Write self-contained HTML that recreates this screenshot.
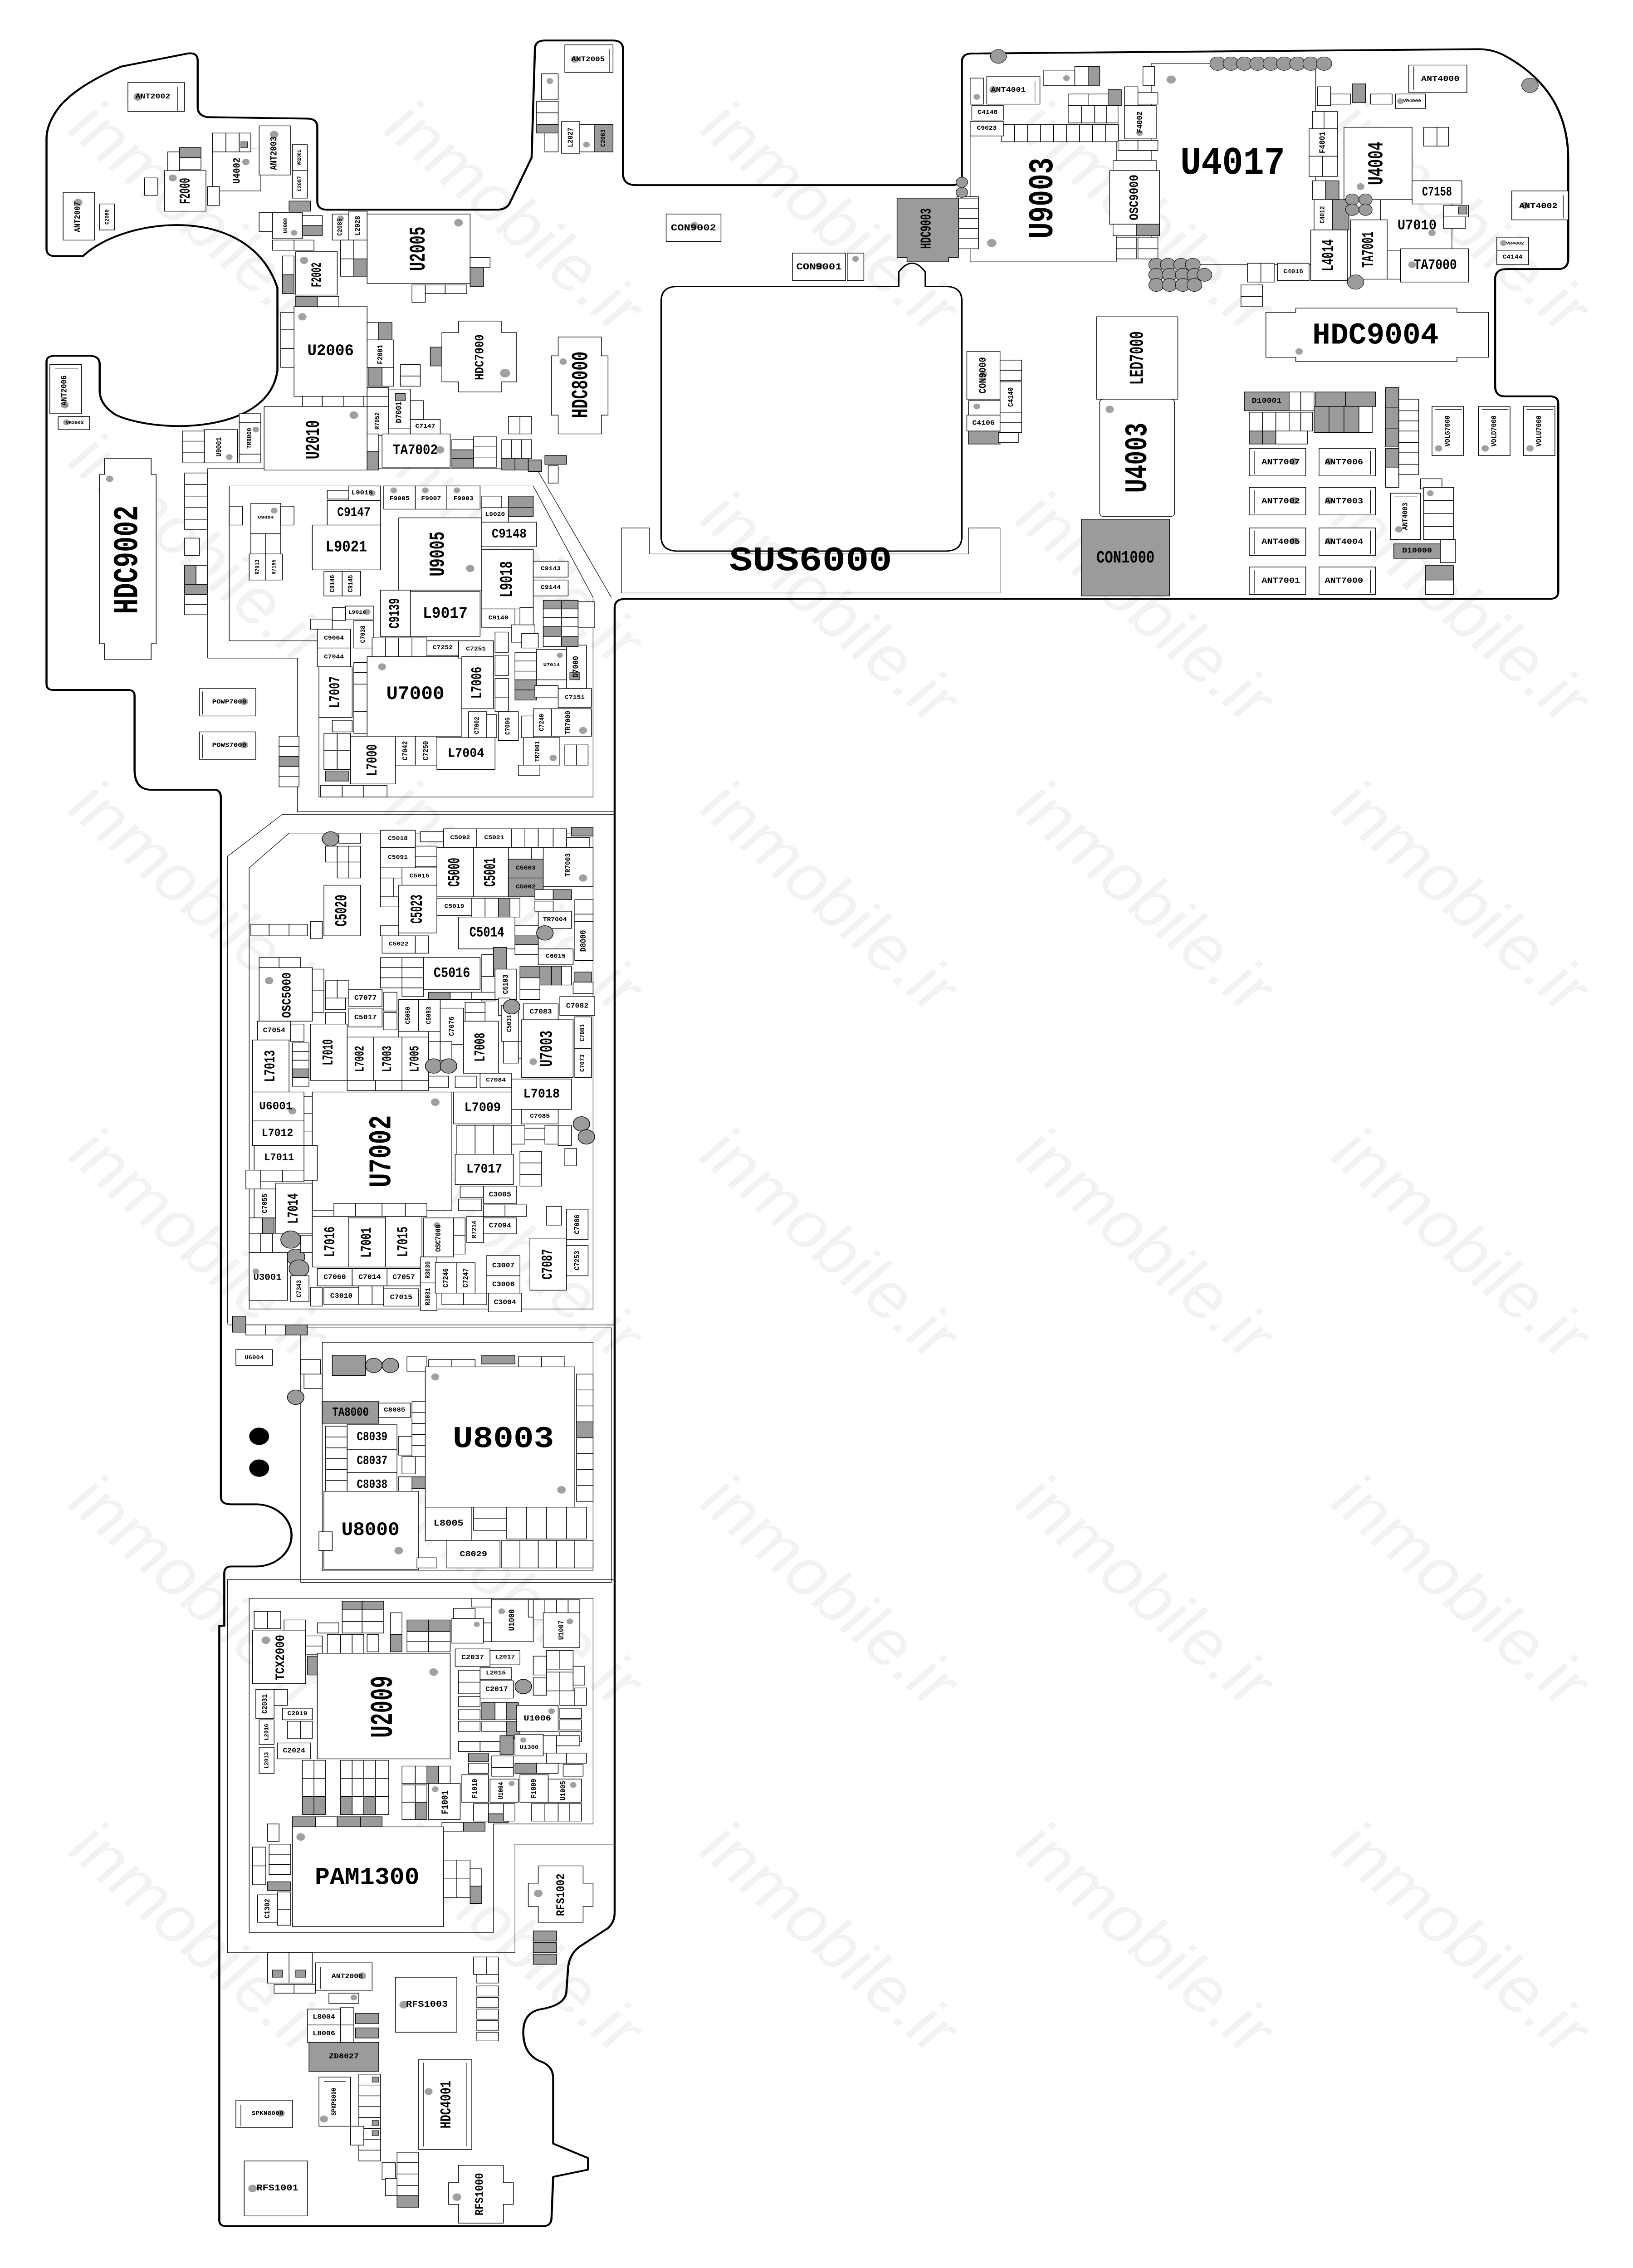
<!DOCTYPE html>
<html><head><meta charset="utf-8">
<meta name="viewport" content="width=device-width, initial-scale=1">
<style>
html,body{margin:0;padding:0;background:#fff;width:100%;height:100%;overflow:hidden}
svg{display:block;position:fixed;left:0;top:0;width:100vw;height:100vh}
.o{fill:none;stroke:#000;stroke-width:1.25;stroke-linejoin:round}
.f{fill:none;stroke:#000;stroke-width:0.35}
.c{fill:#fff;stroke:#000;stroke-width:0.4}
.g{fill:#9b9b9b;stroke:#000;stroke-width:0.4}
.k{fill:#9b9b9b;stroke:#000;stroke-width:0.3}
.d{fill:#a0a0a0}
text{font-family:"Liberation Mono","DejaVu Sans Mono",monospace;font-weight:bold;text-anchor:middle;dominant-baseline:central;fill:#000}
.w{fill:#f2f2f2;font-family:"Liberation Sans",sans-serif;font-weight:normal;font-size:44px}
</style></head><body>
<svg viewBox="0 0 983 1568" preserveAspectRatio="none" xmlns="http://www.w3.org/2000/svg">
<rect width="983" height="1568" fill="#fff"/>
<!-- watermark -->
<g>
<text class="w" transform="translate(120,150) rotate(45)">inmobile.ir</text>
<text class="w" transform="translate(310,150) rotate(45)">inmobile.ir</text>
<text class="w" transform="translate(500,150) rotate(45)">inmobile.ir</text>
<text class="w" transform="translate(690,150) rotate(45)">inmobile.ir</text>
<text class="w" transform="translate(880,150) rotate(45)">inmobile.ir</text>
<text class="w" transform="translate(120,380) rotate(45)">inmobile.ir</text>
<text class="w" transform="translate(310,380) rotate(45)">inmobile.ir</text>
<text class="w" transform="translate(500,420) rotate(45)">inmobile.ir</text>
<text class="w" transform="translate(690,420) rotate(45)">inmobile.ir</text>
<text class="w" transform="translate(880,420) rotate(45)">inmobile.ir</text>
<text class="w" transform="translate(120,620) rotate(45)">inmobile.ir</text>
<text class="w" transform="translate(310,620) rotate(45)">inmobile.ir</text>
<text class="w" transform="translate(500,620) rotate(45)">inmobile.ir</text>
<text class="w" transform="translate(690,620) rotate(45)">inmobile.ir</text>
<text class="w" transform="translate(880,620) rotate(45)">inmobile.ir</text>
<text class="w" transform="translate(120,860) rotate(45)">inmobile.ir</text>
<text class="w" transform="translate(310,860) rotate(45)">inmobile.ir</text>
<text class="w" transform="translate(500,860) rotate(45)">inmobile.ir</text>
<text class="w" transform="translate(690,860) rotate(45)">inmobile.ir</text>
<text class="w" transform="translate(880,860) rotate(45)">inmobile.ir</text>
<text class="w" transform="translate(120,1100) rotate(45)">inmobile.ir</text>
<text class="w" transform="translate(310,1100) rotate(45)">inmobile.ir</text>
<text class="w" transform="translate(500,1100) rotate(45)">inmobile.ir</text>
<text class="w" transform="translate(690,1100) rotate(45)">inmobile.ir</text>
<text class="w" transform="translate(880,1100) rotate(45)">inmobile.ir</text>
<text class="w" transform="translate(120,1340) rotate(45)">inmobile.ir</text>
<text class="w" transform="translate(310,1340) rotate(45)">inmobile.ir</text>
<text class="w" transform="translate(500,1340) rotate(45)">inmobile.ir</text>
<text class="w" transform="translate(690,1340) rotate(45)">inmobile.ir</text>
<text class="w" transform="translate(880,1340) rotate(45)">inmobile.ir</text>
</g>

<!-- board outline -->
<path class="o" d="M28,250 L28,473 Q28,477 32,477 L77,477 Q81,477 81,481 L81,532 Q81,546 91,546 L129,546 Q133,546 133,552 L133,1035 Q133,1040 139,1040 L154,1040 A21.5,21.5 0 0 1 154,1083 L139,1083 Q135,1083 135,1088 L135,1124 L132,1124 L132,1535 Q132,1539 136,1539 L327,1539 Q332,1539 332,1533 L333,1505 L354,1500 L354,1492 L333,1482 L333,1437 Q333,1428 325,1425 Q315,1420 315,1405 Q315,1391 326,1389 Q341,1386 341,1376 L342,1360 Q343,1350 350,1345 L366,1333 Q370,1329 370,1322 L370,420 Q370,414 377,414 L933,414 Q938,414 938,409 L938,279 Q938,274 933,274 L906,274 Q900,274 900,267 L900,193 Q900,186 907,186 L938,186 Q944,186 944,179 L944,110 Q944,62 905,38 Q898,34 890,34 L585,37 Q579,37 579,43 L579,122 Q579,128 573,128 L383,128 Q375,128 375,120 L375,34 Q375,28 369,28 L328,28 Q322,28 322,34 L320,109 L307,140 Q305,145 299,145 L197,145 Q191,145 191,139 L191,88 Q191,82 185,82 L125,81 Q119,80 119,74 L119,42 Q119,36 113,37 L73,46 Q45,60 35,75 Q28,86 28,96 L28,172 Q28,177 33,177 L50,177 C75,150 150,140 167,199 L167,256 C162,300 95,300 70,287 Q60,280 60,270 L60,252 Q60,246 54,246 L33,246 Q28,246 28,250 Z"/>

<!-- thin frames -->
<polyline class="f" points="125,455 125,324 323,324 368,413"/>
<polyline class="f" points="125,455 179,455 179,561 370,561"/>
<polyline class="f" points="138,336 321,336 357,413 357,551 192,551 192,443 138,443 138,336"/>
<polyline class="f" points="137,915 137,592 170,563 370,563"/>
<polygon class="f" points="150,905 150,600 174,576 357,576 357,905"/>
<line class="f" x1="137" y1="916" x2="370" y2="916"/>
<rect class="f" x="181" y="918" width="187" height="176"/>
<rect class="f" x="194" y="928" width="163" height="158"/>
<polyline class="f" points="370,1092 137,1092 137,1350 310,1350 310,1275 370,1275"/>
<polygon class="f" points="150,1105 357,1105 357,1261 297,1261 297,1336 150,1336"/>
<rect class="f" x="693" y="44" width="99" height="139"/>
<rect class="f" x="584" y="88" width="88" height="93"/>
<rect class="f" x="831" y="138" width="43" height="35"/>
<!-- SUS -->
<path class="f" d="M374,365 L391,365 L391,383 L583,383 L583,365 L602,365 L602,410 L374,410 Z"/>
<path d="M408,198 L541,198 L541,188 Q549,176 557,188 L557,198 L569,198 Q579,198 579,208 L579,371 Q579,381 569,381 L408,381 Q398,381 398,371 L398,208 Q398,198 408,198 Z" fill="none" stroke="#000" stroke-width="0.9"/>
<text x="488" y="388" font-size="24" textLength="98" lengthAdjust="spacingAndGlyphs">SUS6000</text>

<!-- ===== TOP-LEFT LOBE ===== -->
<rect class="c" x="77" y="57" width="34" height="20"/><line class="f" x1="107" y1="60" x2="107" y2="77"/><circle class="d" cx="83" cy="67" r="2.6"/><text x="92" y="67" font-size="5">ANT2002</text>
<rect class="c" x="38" y="133" width="19" height="33"/><circle class="d" cx="47" cy="140" r="2.6"/><text transform="translate(47,150) rotate(-90)" font-size="5">ANT2007</text>
<rect class="c" x="60" y="141" width="9" height="18"/><text transform="translate(64.5,150) rotate(-90)" font-size="3.5">C2060</text>
<rect class="c" x="99" y="118" width="25" height="28"/><circle class="d" cx="104" cy="123" r="2.4"/><text transform="translate(112,132) rotate(-90)" font-size="9" textLength="18" lengthAdjust="spacingAndGlyphs">F2000</text>
<rect class="f" x="128" y="103" width="29" height="29"/><circle class="d" cx="148" cy="112" r="2.2"/><text transform="translate(143,118) rotate(-90)" font-size="6">U4002</text>
<rect class="c" x="128" y="92" width="8" height="13"/><rect class="c" x="136" y="92" width="8" height="13"/><rect class="c" x="144" y="92" width="7" height="13"/><rect class="k" x="145" y="98" width="4" height="4"/>
<rect class="c" x="156" y="87" width="19" height="34"/><circle class="d" cx="165" cy="93" r="2.6"/><text transform="translate(165,106) rotate(-90)" font-size="5.5">ANT2003</text>
<rect class="c" x="176" y="100" width="9" height="18"/><text transform="translate(180.5,109) rotate(-90)" font-size="3">VR2001</text>
<rect class="c" x="176" y="118" width="9" height="19"/><text transform="translate(180.5,127) rotate(-90)" font-size="3.5">C2087</text>
<rect class="g" x="174" y="139" width="13" height="7"/>
<rect class="c" x="164" y="147" width="18" height="18"/><circle class="d" cx="177" cy="161" r="2"/><text transform="translate(172,156) rotate(-90)" font-size="3.5">U4000</text>
<rect class="g" x="108" y="102" width="13" height="7"/><rect class="c" x="108" y="109" width="13" height="8"/><rect class="c" x="101" y="105" width="7" height="13"/>
<rect class="c" x="87" y="123" width="8" height="12"/><rect class="c" x="125" y="129" width="7" height="13"/>
<rect class="c" x="156" y="147" width="8" height="13"/>
<rect class="c" x="182" y="149" width="12" height="7"/><rect class="g" x="182" y="156" width="12" height="7"/>
<rect class="c" x="164" y="166" width="13" height="7"/><rect class="c" x="177" y="166" width="12" height="7"/>
<rect class="c" x="178" y="174" width="25" height="30"/><circle class="d" cx="183" cy="180" r="2.5"/><text transform="translate(191,190) rotate(-90)" font-size="8.5" textLength="17" lengthAdjust="spacingAndGlyphs">F2002</text>
<rect class="c" x="170" y="177" width="7" height="13"/><rect class="g" x="170" y="190" width="7" height="13"/>
<rect class="g" x="178" y="205" width="13" height="7"/><rect class="c" x="191" y="205" width="13" height="7"/>
<rect class="c" x="200" y="148" width="10" height="18"/><circle class="d" cx="205" cy="151" r="2"/><text transform="translate(205,157) rotate(-90)" font-size="4">C2085</text>
<rect class="c" x="210" y="146" width="11" height="20"/><text transform="translate(215.5,156) rotate(-90)" font-size="4.5">L2028</text>
<rect class="c" x="221" y="148" width="62" height="48"/><circle class="d" cx="276" cy="154" r="2.6"/><text transform="translate(252,172) rotate(-90)" font-size="13.5" textLength="30.6" lengthAdjust="spacingAndGlyphs">U2005</text>
<rect class="c" x="205" y="166" width="8" height="13"/><rect class="c" x="213" y="166" width="8" height="13"/><rect class="c" x="205" y="179" width="8" height="12"/><rect class="g" x="213" y="179" width="8" height="12"/>
<rect class="c" x="283" y="178" width="12" height="7"/><rect class="g" x="283" y="185" width="8" height="13"/>
<rect class="c" x="248" y="197" width="8" height="12"/><rect class="c" x="256" y="197" width="12" height="6"/><rect class="c" x="268" y="197" width="13" height="6"/>
<rect class="c" x="177" y="212" width="44" height="62"/><circle class="d" cx="182" cy="219" r="2.5"/><text x="199" y="243" font-size="11" textLength="28" lengthAdjust="spacingAndGlyphs">U2006</text>
<rect class="c" x="169" y="216" width="8" height="12"/><rect class="c" x="169" y="228" width="8" height="13"/><rect class="c" x="169" y="241" width="8" height="13"/>
<rect class="c" x="221" y="223" width="7" height="12"/><rect class="g" x="228" y="223" width="8" height="12"/>
<rect class="c" x="221" y="235" width="16" height="19"/><text transform="translate(229,245) rotate(-90)" font-size="4.5">F2001</text>
<rect class="g" x="222" y="254" width="8" height="13"/><rect class="c" x="230" y="254" width="7" height="13"/>
<rect class="c" x="241" y="252" width="12" height="8"/><rect class="c" x="241" y="260" width="12" height="7"/>
<rect class="g" x="259" y="240" width="7" height="13"/>
<polygon class="c" points="276,222 302,222 302,230 311,230 311,264 302,264 302,271 276,271 276,264 266,264 266,230 276,230"/><circle class="d" cx="304" cy="258" r="3"/><text transform="translate(289,247) rotate(-90)" font-size="7.5">HDC7000</text>
<polygon class="c" points="336,233 362,233 362,246 366,246 366,287 362,287 362,300 336,300 336,287 332,287 332,246 336,246"/><circle class="d" cx="339" cy="250" r="2.2"/><text transform="translate(350,266) rotate(-90)" font-size="14" textLength="46" lengthAdjust="spacingAndGlyphs">HDC8000</text>
<rect class="c" x="340" y="31" width="29" height="19"/><line class="f" x1="367" y1="34" x2="367" y2="50"/><circle class="d" cx="346" cy="41" r="2.4"/><text x="354" y="41" font-size="4.8">ANT2005</text>
<rect class="c" x="326" y="51" width="10" height="18"/><circle class="d" cx="331" cy="56" r="2"/>
<rect class="c" x="323" y="70" width="13" height="8"/><rect class="c" x="323" y="78" width="13" height="8"/><rect class="g" x="323" y="86" width="13" height="6"/>
<rect class="c" x="328" y="92" width="8" height="13"/>
<rect class="c" x="338" y="84" width="11" height="22"/><text transform="translate(343.5,95) rotate(-90)" font-size="4.5">L2027</text>
<rect class="c" x="349" y="86" width="9" height="19"/><circle class="d" cx="353" cy="100" r="2"/>
<rect class="g" x="358" y="86" width="11" height="19"/><text transform="translate(363.5,95.5) rotate(-90)" font-size="4">C2063</text>
<rect class="c" x="30" y="252" width="19" height="34"/><line class="f" x1="33" y1="255" x2="47" y2="255"/><circle class="d" cx="39" cy="280" r="2.4"/><text transform="translate(39,270) rotate(-90)" font-size="5">ANT2006</text>
<rect class="c" x="35" y="288" width="19" height="9"/><circle class="d" cx="40" cy="292" r="2"/><text x="45" y="292.5" font-size="3">VR2003</text>
<rect class="c" x="182" y="274" width="12" height="7"/><rect class="c" x="194" y="274" width="13" height="7"/><rect class="c" x="207" y="274" width="12" height="7"/>
<rect class="c" x="159" y="281" width="62" height="44"/><circle class="d" cx="213" cy="287" r="2.6"/><text transform="translate(189,304) rotate(-90)" font-size="12" textLength="27" lengthAdjust="spacingAndGlyphs">U2010</text>
<rect class="c" x="144" y="286" width="13" height="6"/><rect class="c" x="144" y="292" width="13" height="22"/><circle class="d" cx="154" cy="297" r="2"/><text transform="translate(150.5,303) rotate(-90)" font-size="4">TR9000</text><rect class="c" x="144" y="314" width="13" height="6"/>
<rect class="c" x="123" y="297" width="20" height="23"/><circle class="d" cx="138" cy="316" r="2"/><text transform="translate(132,309) rotate(-90)" font-size="4.5">U9001</text>
<rect class="c" x="110" y="298" width="13" height="7"/><rect class="c" x="110" y="305" width="13" height="8"/><rect class="c" x="110" y="313" width="13" height="7"/>
<rect class="c" x="221" y="268" width="13" height="6"/><rect class="c" x="221" y="274" width="13" height="7"/>
<rect class="c" x="221" y="281" width="13" height="20"/><text transform="translate(227.5,291) rotate(-90)" font-size="4">R7052</text>
<rect class="c" x="234" y="269" width="13" height="27"/><rect class="k" x="238" y="272" width="6" height="5"/><text transform="translate(240.5,285) rotate(-90)" font-size="5">D7001</text>
<rect class="c" x="247" y="277" width="8" height="13"/>
<rect class="c" x="247" y="290" width="18" height="10"/><text x="256" y="295" font-size="4">C7147</text>
<rect class="c" x="221" y="300" width="7" height="12"/><rect class="g" x="221" y="312" width="7" height="13"/>
<rect class="c" x="230" y="300" width="41" height="23"/><circle class="d" cx="265" cy="311" r="2.5"/><text x="250" y="311.5" font-size="10" textLength="27" lengthAdjust="spacingAndGlyphs">TA7002</text>
<rect class="c" x="272" y="304" width="13" height="7"/><rect class="g" x="272" y="311" width="13" height="6"/><rect class="g" x="272" y="317" width="13" height="6"/>
<rect class="c" x="285" y="302" width="14" height="7"/><rect class="c" x="285" y="309" width="14" height="7"/><rect class="c" x="285" y="316" width="14" height="7"/>
<rect class="c" x="302" y="304" width="6" height="13"/><rect class="c" x="308" y="304" width="6" height="13"/><rect class="c" x="314" y="304" width="6" height="13"/>
<rect class="g" x="302" y="317" width="8" height="8"/><rect class="g" x="310" y="317" width="8" height="8"/><rect class="g" x="318" y="318" width="8" height="8"/><rect class="g" x="328" y="315" width="13" height="6"/>
<rect class="c" x="306" y="288" width="7" height="12"/><rect class="c" x="313" y="288" width="7" height="12"/><rect class="c" x="330" y="322" width="6" height="12"/>

<!-- ===== LEFT COLUMN UPPER ===== -->
<polygon class="c" points="63,317 91,317 91,328 94,328 94,445 91,445 91,456 63,456 63,445 60,445 60,328 63,328"/><circle class="d" cx="66" cy="331" r="2.2"/><text transform="translate(77,387) rotate(-90)" font-size="21" textLength="75" lengthAdjust="spacingAndGlyphs">HDC9002</text>
<rect class="c" x="111" y="327" width="14" height="8"/><rect class="c" x="111" y="335" width="14" height="8"/><rect class="c" x="111" y="343" width="14" height="8"/><rect class="c" x="111" y="351" width="14" height="8"/><rect class="c" x="111" y="359" width="14" height="7"/>
<rect class="c" x="111" y="372" width="9" height="12"/>
<rect class="g" x="111" y="391" width="7" height="13"/><rect class="c" x="118" y="391" width="7" height="13"/>
<rect class="g" x="111" y="404" width="14" height="7"/><rect class="c" x="111" y="411" width="14" height="7"/><rect class="c" x="111" y="418" width="14" height="7"/>
<rect class="c" x="120" y="476" width="34" height="19"/><line class="f" x1="122" y1="478" x2="122" y2="494"/><circle class="d" cx="147" cy="485" r="2.4"/><text x="138" y="485.5" font-size="4.3">POWP7000</text>
<rect class="c" x="120" y="506" width="34" height="19"/><line class="f" x1="122" y1="508" x2="122" y2="524"/><circle class="d" cx="147" cy="515" r="2.4"/><text x="138" y="515.5" font-size="4.3">POWS7000</text>
<rect class="c" x="168" y="509" width="12" height="7"/><rect class="c" x="168" y="516" width="12" height="7"/><rect class="g" x="168" y="523" width="12" height="7"/><rect class="c" x="168" y="530" width="12" height="7"/><rect class="c" x="168" y="537" width="12" height="7"/>
<rect class="c" x="138" y="350" width="8" height="13"/>
<rect class="c" x="151" y="348" width="18" height="21"/><circle class="d" cx="165" cy="353" r="2"/><text x="160" y="358" font-size="3.2">U9004</text>
<rect class="c" x="169" y="350" width="8" height="13"/><rect class="c" x="151" y="369" width="9" height="14"/><rect class="c" x="160" y="369" width="9" height="14"/>
<rect class="c" x="150" y="383" width="10" height="18"/><text transform="translate(155,392) rotate(-90)" font-size="3.5">R7013</text><rect class="c" x="160" y="383" width="10" height="18"/><text transform="translate(165,392) rotate(-90)" font-size="3.5">R7195</text>
<rect class="c" x="197" y="339" width="13" height="6"/>
<rect class="c" x="210" y="336" width="19" height="10"/><circle class="d" cx="224" cy="341" r="2"/><text x="218" y="341" font-size="4.3">L9019</text>
<rect class="c" x="231" y="336" width="19" height="16"/><circle class="d" cx="237" cy="339" r="2"/><text x="240.5" y="345" font-size="4">F9005</text>
<rect class="c" x="250" y="336" width="19" height="16"/><circle class="d" cx="256" cy="339" r="2"/><text x="259.5" y="345" font-size="4">F9007</text>
<rect class="c" x="269" y="336" width="20" height="16"/><circle class="d" cx="275" cy="339" r="2"/><text x="279" y="345" font-size="4">F9003</text>
<rect class="c" x="197" y="346" width="32" height="17"/><text x="213" y="354.5" font-size="9" textLength="20" lengthAdjust="spacingAndGlyphs">C9147</text>
<rect class="c" x="188" y="363" width="41" height="31"/><text x="208.5" y="378.5" font-size="11" textLength="25" lengthAdjust="spacingAndGlyphs">L9021</text>
<rect class="c" x="195" y="395" width="11" height="17"/><text transform="translate(200.5,403.5) rotate(-90)" font-size="4">C9146</text>
<rect class="c" x="206" y="395" width="11" height="17"/><text transform="translate(211.5,403.5) rotate(-90)" font-size="4">C9145</text>
<rect class="c" x="240" y="358" width="50" height="50"/><circle class="d" cx="283" cy="393" r="2.5"/><text transform="translate(264,383) rotate(-90)" font-size="13" textLength="31" lengthAdjust="spacingAndGlyphs">U9005</text>
<rect class="c" x="290" y="343" width="12" height="8"/><rect class="g" x="306" y="343" width="15" height="8"/>
<rect class="c" x="290" y="351" width="16" height="10"/><text x="298" y="356" font-size="4">L9020</text><rect class="g" x="306" y="351" width="15" height="6"/>
<rect class="c" x="290" y="361" width="33" height="17"/><text x="306.5" y="369.5" font-size="9" textLength="21" lengthAdjust="spacingAndGlyphs">C9148</text>
<rect class="c" x="290" y="380" width="31" height="41"/><text transform="translate(305.5,400.5) rotate(-90)" font-size="11" textLength="25" lengthAdjust="spacingAndGlyphs">L9018</text>
<rect class="c" x="321" y="388" width="21" height="11"/><text x="331.5" y="393.5" font-size="4">C9143</text>
<rect class="c" x="321" y="401" width="21" height="11"/><text x="331.5" y="406.5" font-size="4">C9144</text>
<rect class="c" x="229" y="408" width="18" height="32"/><text transform="translate(238,424) rotate(-90)" font-size="9" textLength="21" lengthAdjust="spacingAndGlyphs">C9139</text>
<rect class="c" x="247" y="409" width="42" height="31"/><text x="268" y="424.5" font-size="11" textLength="27" lengthAdjust="spacingAndGlyphs">L9017</text>
<rect class="c" x="290" y="421" width="20" height="13"/><text x="300" y="427.5" font-size="4">C9140</text>
<rect class="c" x="200" y="420" width="8" height="9"/><rect class="c" x="208" y="419" width="17" height="9"/><circle class="d" cx="221" cy="423" r="2"/><text x="215" y="423.5" font-size="3.6">L9016</text><rect class="c" x="187" y="428" width="13" height="7"/>
<rect class="c" x="191" y="435" width="20" height="13"/><text x="201" y="441.5" font-size="4">C9004</text>
<rect class="c" x="213" y="429" width="12" height="19"/><text transform="translate(219,438.5) rotate(-90)" font-size="4">C7038</text>
<rect class="c" x="191" y="448" width="20" height="13"/><text x="201" y="454.5" font-size="4">C7044</text>
<rect class="c" x="192" y="461" width="20" height="35"/><text transform="translate(202,478.5) rotate(-90)" font-size="9" textLength="22" lengthAdjust="spacingAndGlyphs">L7007</text>
<rect class="c" x="213" y="458" width="11" height="7"/><rect class="c" x="213" y="465" width="11" height="8"/><rect class="c" x="213" y="473" width="8" height="19"/><rect class="c" x="213" y="492" width="8" height="15"/>
<rect class="c" x="221" y="454" width="57" height="55"/><circle class="d" cx="230" cy="461" r="2.4"/><text x="250" y="480" font-size="13" textLength="35" lengthAdjust="spacingAndGlyphs">U7000</text>
<rect class="c" x="224" y="441" width="8" height="13"/><rect class="c" x="232" y="441" width="8" height="13"/><rect class="c" x="240" y="441" width="8" height="13"/><rect class="c" x="248" y="441" width="9" height="13"/>
<rect class="c" x="257" y="443" width="19" height="10"/><text x="266.5" y="448" font-size="4">C7252</text>
<rect class="c" x="276" y="443" width="21" height="12"/><text x="286.5" y="449" font-size="4">C7251</text>
<rect class="c" x="278" y="454" width="19" height="36"/><text transform="translate(287.5,472) rotate(-90)" font-size="9" textLength="22" lengthAdjust="spacingAndGlyphs">L7006</text>
<rect class="c" x="298" y="437" width="8" height="14"/><rect class="c" x="308" y="432" width="14" height="12"/><rect class="c" x="298" y="453" width="8" height="14"/><rect class="c" x="298" y="469" width="8" height="13"/><rect class="c" x="298" y="482" width="8" height="10"/>
<rect class="c" x="310" y="451" width="13" height="6"/><rect class="c" x="310" y="457" width="13" height="7"/><rect class="c" x="310" y="464" width="13" height="6"/><rect class="g" x="310" y="470" width="13" height="7"/><rect class="g" x="310" y="477" width="13" height="7"/><rect class="c" x="322" y="474" width="14" height="8"/><rect class="c" x="313" y="420" width="8" height="12"/>
<rect class="c" x="323" y="449" width="18" height="21"/><circle class="d" cx="337" cy="453" r="1.8"/><text x="332" y="460" font-size="3.3">U7014</text>
<rect class="c" x="341" y="446" width="12" height="30"/><rect class="k" x="343" y="465" width="6" height="5"/><text transform="translate(347,461) rotate(-90)" font-size="5">D7000</text>
<rect class="c" x="336" y="476" width="20" height="13"/><text x="346" y="482.5" font-size="4">C7151</text>
<rect class="g" x="327" y="415" width="11" height="6"/><rect class="g" x="338" y="415" width="10" height="6"/><rect class="c" x="327" y="421" width="11" height="6"/><rect class="c" x="338" y="421" width="10" height="6"/><rect class="c" x="327" y="427" width="11" height="6"/><rect class="c" x="338" y="427" width="10" height="6"/><rect class="g" x="327" y="433" width="11" height="7"/><rect class="c" x="338" y="433" width="10" height="7"/><rect class="c" x="327" y="440" width="11" height="7"/><rect class="g" x="338" y="440" width="10" height="7"/>
<rect class="c" x="348" y="416" width="10" height="18"/><rect class="c" x="314" y="438" width="10" height="10"/>
<rect class="c" x="332" y="490" width="24" height="19"/><circle class="d" cx="351" cy="505" r="2.4"/><text transform="translate(342,499.5) rotate(-90)" font-size="4.5">TR7000</text>
<rect class="c" x="321" y="490" width="11" height="19"/><text transform="translate(326.5,499.5) rotate(-90)" font-size="4">C7240</text>
<rect class="c" x="282" y="492" width="11" height="19"/><text transform="translate(287.5,501.5) rotate(-90)" font-size="4">C7002</text>
<rect class="c" x="293" y="494" width="6" height="16"/>
<rect class="c" x="300" y="492" width="12" height="20"/><text transform="translate(306,502) rotate(-90)" font-size="4">C7005</text>
<rect class="c" x="314" y="495" width="7" height="15"/>
<rect class="c" x="315" y="510" width="22" height="19"/><circle class="d" cx="333" cy="524" r="2.2"/><text transform="translate(324,519.5) rotate(-90)" font-size="4">TR7001</text>
<rect class="c" x="340" y="515" width="7" height="14"/><rect class="c" x="347" y="515" width="7" height="14"/><rect class="c" x="312" y="529" width="13" height="7"/>
<rect class="c" x="263" y="510" width="35" height="22"/><text x="280.5" y="521" font-size="9" textLength="22" lengthAdjust="spacingAndGlyphs">L7004</text>
<rect class="c" x="238" y="509" width="12" height="20"/><text transform="translate(244,519) rotate(-90)" font-size="4.5">C7042</text>
<rect class="c" x="250" y="509" width="13" height="20"/><text transform="translate(256.5,519) rotate(-90)" font-size="4.5">C7250</text>
<rect class="c" x="211" y="509" width="27" height="33"/><text transform="translate(224.5,525.5) rotate(-90)" font-size="9" textLength="22" lengthAdjust="spacingAndGlyphs">L7000</text>
<rect class="c" x="195" y="507" width="8" height="12"/><rect class="c" x="203" y="507" width="8" height="12"/><rect class="c" x="195" y="519" width="8" height="13"/><rect class="c" x="203" y="519" width="8" height="13"/><rect class="g" x="196" y="533" width="14" height="7"/>
<rect class="c" x="193" y="543" width="13" height="8"/><rect class="c" x="206" y="543" width="13" height="8"/><rect class="c" x="219" y="543" width="14" height="8"/>
<rect class="c" x="200" y="498" width="12" height="8"/>

<!-- ===== MIDDLE (U7002) ===== -->
<rect class="c" x="229" y="574" width="21" height="12"/><text x="239.5" y="580" font-size="4">C5018</text>
<rect class="c" x="253" y="575" width="14" height="7"/>
<rect class="c" x="267" y="573" width="20" height="13"/><text x="277" y="579.5" font-size="4">C5092</text>
<rect class="c" x="287" y="573" width="21" height="13"/><text x="297.5" y="579.5" font-size="4">C5021</text>
<rect class="c" x="308" y="573" width="8" height="13"/><rect class="c" x="316" y="573" width="8" height="13"/><rect class="c" x="324" y="573" width="9" height="13"/><rect class="c" x="333" y="573" width="8" height="13"/><rect class="g" x="344" y="572" width="13" height="6"/><rect class="c" x="341" y="579" width="14" height="7"/>
<circle class="g" cx="199" cy="580" r="5"/><rect class="c" x="204" y="576" width="13" height="7"/>
<rect class="c" x="196" y="585" width="7" height="11"/><rect class="c" x="203" y="585" width="7" height="11"/><rect class="c" x="210" y="585" width="7" height="11"/><rect class="c" x="203" y="596" width="7" height="11"/><rect class="c" x="210" y="596" width="7" height="11"/>
<rect class="c" x="229" y="586" width="21" height="14"/><text x="239.5" y="593" font-size="4">C5091</text>
<rect class="c" x="250" y="585" width="13" height="7"/><rect class="c" x="250" y="592" width="13" height="7"/>
<rect class="c" x="229" y="600" width="13" height="7"/>
<rect class="c" x="242" y="600" width="21" height="12"/><text x="252.5" y="606" font-size="4">C5015</text>
<rect class="c" x="263" y="586" width="22" height="34"/><text transform="translate(274,603) rotate(-90)" font-size="10" textLength="20" lengthAdjust="spacingAndGlyphs">C5000</text>
<rect class="c" x="285" y="586" width="21" height="34"/><text transform="translate(295.5,603) rotate(-90)" font-size="10" textLength="20" lengthAdjust="spacingAndGlyphs">C5001</text>
<rect class="c" x="306" y="586" width="14" height="8"/>
<rect class="g" x="306" y="594" width="21" height="13"/><text x="316.5" y="600.5" font-size="4">C5003</text>
<rect class="g" x="306" y="607" width="21" height="13"/><text x="316.5" y="613.5" font-size="4">C5002</text>
<rect class="c" x="327" y="586" width="30" height="27"/><circle class="d" cx="351" cy="607" r="2.5"/><text transform="translate(342,598) rotate(-90)" font-size="4.5">TR7003</text>
<rect class="c" x="229" y="607" width="8" height="13"/><rect class="c" x="229" y="620" width="11" height="7"/>
<rect class="c" x="195" y="612" width="22" height="35"/><text transform="translate(206,629.5) rotate(-90)" font-size="10" textLength="22" lengthAdjust="spacingAndGlyphs">C5020</text>
<rect class="c" x="240" y="612" width="23" height="33"/><text transform="translate(251.5,628.5) rotate(-90)" font-size="10" textLength="20" lengthAdjust="spacingAndGlyphs">C5023</text>
<rect class="c" x="263" y="621" width="21" height="12"/><text x="273.5" y="627" font-size="4">C5019</text>
<rect class="c" x="284" y="621" width="8" height="13"/><rect class="c" x="292" y="621" width="8" height="13"/><rect class="g" x="300" y="621" width="7" height="13"/><rect class="c" x="307" y="621" width="6" height="13"/>
<rect class="c" x="322" y="615" width="11" height="7"/><rect class="g" x="333" y="615" width="11" height="7"/><rect class="c" x="322" y="623" width="11" height="7"/><rect class="c" x="346" y="622" width="11" height="10"/><rect class="c" x="346" y="632" width="11" height="6"/>
<rect class="c" x="151" y="639" width="11" height="8"/><rect class="c" x="162" y="639" width="12" height="8"/><rect class="c" x="174" y="639" width="11" height="8"/><rect class="c" x="187" y="637" width="7" height="12"/>
<rect class="c" x="229" y="640" width="11" height="7"/>
<rect class="c" x="230" y="647" width="20" height="12"/><text x="240" y="653" font-size="4">C5022</text><rect class="c" x="250" y="647" width="8" height="12"/>
<rect class="c" x="276" y="634" width="34" height="22"/><text x="293" y="645" font-size="10" textLength="21" lengthAdjust="spacingAndGlyphs">C5014</text>
<rect class="c" x="324" y="630" width="20" height="12"/><text x="334" y="636" font-size="4">TR7004</text>
<rect class="c" x="346" y="637" width="11" height="27"/><text transform="translate(351.5,650.5) rotate(-90)" font-size="5">D8000</text>
<rect class="c" x="310" y="640" width="14" height="7"/><rect class="g" x="310" y="647" width="14" height="6"/><rect class="c" x="310" y="653" width="14" height="7"/><circle class="g" cx="328" cy="645" r="5"/>
<rect class="c" x="324" y="656" width="21" height="11"/><text x="334.5" y="661.5" font-size="4">C6015</text>
<rect class="c" x="229" y="662" width="13" height="7"/><rect class="c" x="242" y="662" width="13" height="7"/><rect class="c" x="229" y="669" width="13" height="7"/><rect class="c" x="242" y="669" width="13" height="7"/><rect class="c" x="229" y="676" width="13" height="7"/><rect class="c" x="242" y="676" width="13" height="7"/><rect class="c" x="242" y="683" width="13" height="6"/>
<rect class="c" x="255" y="662" width="34" height="22"/><text x="272" y="673" font-size="10" textLength="22" lengthAdjust="spacingAndGlyphs">C5016</text>
<rect class="c" x="290" y="660" width="7" height="15"/><rect class="g" x="297" y="655" width="8" height="20"/><rect class="c" x="290" y="675" width="8" height="17"/>
<rect class="c" x="298" y="670" width="13" height="21"/><text transform="translate(304.5,680.5) rotate(-90)" font-size="4.5">C5103</text>
<rect class="g" x="313" y="668" width="12" height="8"/><rect class="c" x="313" y="676" width="12" height="8"/><rect class="c" x="313" y="684" width="12" height="7"/><rect class="g" x="325" y="668" width="7" height="13"/><rect class="g" x="332" y="668" width="6" height="13"/><rect class="c" x="338" y="668" width="6" height="13"/><rect class="g" x="346" y="672" width="10" height="7"/><rect class="c" x="345" y="679" width="12" height="8"/>
<rect class="c" x="156" y="662" width="12" height="7"/><rect class="c" x="168" y="662" width="13" height="7"/>
<rect class="c" x="156" y="669" width="32" height="37"/><circle class="d" cx="162" cy="678" r="2.5"/><text transform="translate(173,688) rotate(-90)" font-size="7.5">OSC5000</text>
<rect class="c" x="188" y="670" width="7" height="15"/><rect class="c" x="188" y="685" width="7" height="15"/><rect class="c" x="196" y="678" width="7" height="13"/><rect class="c" x="196" y="690" width="12" height="8"/><rect class="c" x="196" y="700" width="12" height="8"/><rect class="c" x="203" y="678" width="7" height="12"/>
<rect class="c" x="210" y="684" width="20" height="12"/><text x="220" y="690" font-size="4.5">C7077</text>
<rect class="c" x="210" y="697" width="20" height="13"/><text x="220" y="703.5" font-size="4.5">C5017</text>
<rect class="c" x="231" y="686" width="8" height="13"/><rect class="c" x="231" y="700" width="8" height="12"/>
<rect class="c" x="240" y="691" width="12" height="22"/><text transform="translate(246,702) rotate(-90)" font-size="4">C5050</text>
<rect class="c" x="252" y="691" width="13" height="22"/><text transform="translate(258.5,702) rotate(-90)" font-size="4">C5093</text>
<rect class="c" x="265" y="697" width="14" height="25"/><text transform="translate(272,709.5) rotate(-90)" font-size="4.5">C7076</text>
<rect class="c" x="240" y="713" width="18" height="6"/><rect class="g" x="258" y="686" width="13" height="5"/><rect class="c" x="271" y="686" width="13" height="5"/><rect class="c" x="284" y="686" width="14" height="5"/>
<rect class="c" x="279" y="706" width="21" height="36"/><text transform="translate(289.5,724) rotate(-90)" font-size="9" textLength="20" lengthAdjust="spacingAndGlyphs">L7008</text>
<rect class="c" x="280" y="693" width="12" height="7"/><rect class="c" x="280" y="700" width="12" height="6"/><rect class="c" x="300" y="690" width="7" height="12"/>
<rect class="c" x="302" y="695" width="10" height="25"/><text transform="translate(307,707.5) rotate(-90)" font-size="4">C5031</text>
<rect class="c" x="303" y="720" width="9" height="15"/><rect class="c" x="312" y="720" width="5" height="12"/><circle class="g" cx="308" cy="696" r="5"/>
<rect class="c" x="315" y="694" width="21" height="11"/><text x="325.5" y="699.5" font-size="4.5">C7083</text>
<rect class="c" x="337" y="689" width="21" height="13"/><text x="347.5" y="695.5" font-size="4.5">C7082</text>
<rect class="c" x="346" y="703" width="10" height="22"/><text transform="translate(351,714) rotate(-90)" font-size="4">C7081</text>
<rect class="c" x="346" y="725" width="10" height="20"/><text transform="translate(351,735) rotate(-90)" font-size="4">C7073</text>
<rect class="c" x="314" y="705" width="31" height="40"/><circle class="d" cx="321" cy="734" r="2.3"/><text transform="translate(329.5,725) rotate(-90)" font-size="11" textLength="25" lengthAdjust="spacingAndGlyphs">U7003</text>
<rect class="c" x="155" y="706" width="20" height="13"/><text x="165" y="712.5" font-size="4.5">C7054</text><rect class="c" x="175" y="708" width="8" height="12"/>
<rect class="c" x="176" y="721" width="10" height="6"/><rect class="c" x="176" y="727" width="10" height="6"/><rect class="c" x="176" y="733" width="10" height="6"/><rect class="g" x="176" y="739" width="10" height="6"/><rect class="c" x="176" y="745" width="10" height="6"/>
<rect class="c" x="152" y="719" width="22" height="36"/><text transform="translate(163,737) rotate(-90)" font-size="9" textLength="22" lengthAdjust="spacingAndGlyphs">L7013</text>
<rect class="c" x="187" y="708" width="22" height="39"/><text transform="translate(198,727.5) rotate(-90)" font-size="9" textLength="18" lengthAdjust="spacingAndGlyphs">L7010</text>
<rect class="c" x="209" y="717" width="16" height="30"/><text transform="translate(217,732) rotate(-90)" font-size="8" textLength="18" lengthAdjust="spacingAndGlyphs">L7002</text>
<rect class="c" x="225" y="717" width="17" height="30"/><text transform="translate(233.5,732) rotate(-90)" font-size="8" textLength="18" lengthAdjust="spacingAndGlyphs">L7003</text>
<rect class="c" x="242" y="717" width="16" height="30"/><text transform="translate(250,732) rotate(-90)" font-size="8" textLength="18" lengthAdjust="spacingAndGlyphs">L7005</text>
<rect class="c" x="258" y="720" width="7" height="13"/><rect class="c" x="265" y="720" width="7" height="13"/>
<circle class="g" cx="261" cy="737" r="5"/><circle class="g" cx="270" cy="737" r="5"/>
<rect class="c" x="258" y="744" width="12" height="8"/><rect class="c" x="274" y="744" width="13" height="8"/>
<rect class="c" x="209" y="747" width="17" height="7"/><rect class="c" x="226" y="747" width="16" height="7"/><rect class="c" x="242" y="747" width="16" height="7"/>
<rect class="c" x="289" y="742" width="19" height="10"/><text x="298.5" y="747" font-size="4">C7084</text>
<rect class="c" x="308" y="746" width="36" height="21"/><text x="326" y="756.5" font-size="9" textLength="22" lengthAdjust="spacingAndGlyphs">L7018</text>
<rect class="c" x="273" y="755" width="35" height="22"/><text x="290.5" y="766" font-size="9" textLength="22" lengthAdjust="spacingAndGlyphs">L7009</text>
<rect class="c" x="152" y="755" width="31" height="20"/><circle class="d" cx="176" cy="768" r="2.4"/><text x="166" y="765" font-size="7.5" textLength="20" lengthAdjust="spacingAndGlyphs">U6001</text>
<rect class="c" x="183" y="758" width="7" height="12"/><rect class="c" x="183" y="770" width="7" height="12"/>
<rect class="c" x="152" y="775" width="31" height="17"/><text x="167" y="783.5" font-size="7.5" textLength="19" lengthAdjust="spacingAndGlyphs">L7012</text>
<rect class="c" x="314" y="767" width="22" height="10"/><text x="325" y="772" font-size="4">C7085</text>
<rect class="c" x="308" y="778" width="8" height="13"/><rect class="c" x="316" y="780" width="12" height="8"/><rect class="c" x="328" y="778" width="8" height="13"/><rect class="c" x="336" y="778" width="8" height="14"/>
<circle class="g" cx="350" cy="777" r="5"/><circle class="g" cx="353" cy="786" r="5"/>
<rect class="c" x="188" y="755" width="84" height="82"/><circle class="d" cx="262" cy="762" r="2.6"/><text transform="translate(230,796) rotate(-90)" font-size="19" textLength="50" lengthAdjust="spacingAndGlyphs">U7002</text>
<rect class="c" x="275" y="778" width="11" height="20"/><rect class="c" x="286" y="778" width="11" height="20"/><rect class="c" x="297" y="778" width="11" height="20"/>
<rect class="c" x="153" y="792" width="30" height="17"/><text x="168" y="800.5" font-size="7" textLength="18" lengthAdjust="spacingAndGlyphs">L7011</text>
<rect class="c" x="183" y="792" width="8" height="24"/>
<rect class="c" x="148" y="809" width="9" height="13"/><rect class="c" x="157" y="809" width="13" height="8"/><rect class="c" x="170" y="809" width="13" height="8"/>
<rect class="c" x="153" y="822" width="13" height="20"/><text transform="translate(159.5,832) rotate(-90)" font-size="4.5">C7055</text>
<rect class="c" x="166" y="818" width="22" height="35"/><text transform="translate(177,835.5) rotate(-90)" font-size="9" textLength="21" lengthAdjust="spacingAndGlyphs">L7014</text>
<rect class="c" x="150" y="842" width="8" height="11"/><rect class="g" x="158" y="842" width="7" height="11"/>
<rect class="c" x="150" y="853" width="7" height="13"/><rect class="c" x="157" y="853" width="7" height="13"/>
<circle class="g" cx="175" cy="857" r="6"/><circle class="g" cx="178" cy="869" r="5.5"/><circle class="g" cx="180" cy="877" r="6"/>
<rect class="c" x="181" y="854" width="7" height="12"/>
<rect class="c" x="150" y="866" width="23" height="33"/><circle class="d" cx="154" cy="879" r="2"/><text x="161" y="883" font-size="6.5" textLength="17" lengthAdjust="spacingAndGlyphs">U3001</text>
<rect class="c" x="175" y="882" width="11" height="18"/><text transform="translate(180.5,891) rotate(-90)" font-size="4">C7343</text>
<rect class="c" x="188" y="841" width="22" height="35"/><text transform="translate(199,858.5) rotate(-90)" font-size="9" textLength="21" lengthAdjust="spacingAndGlyphs">L7016</text>
<rect class="c" x="210" y="842" width="22" height="34"/><text transform="translate(221,859) rotate(-90)" font-size="9" textLength="21" lengthAdjust="spacingAndGlyphs">L7001</text>
<rect class="c" x="232" y="841" width="22" height="35"/><text transform="translate(243,858.5) rotate(-90)" font-size="9" textLength="21" lengthAdjust="spacingAndGlyphs">L7015</text>
<rect class="c" x="201" y="832" width="13" height="9"/><rect class="c" x="214" y="832" width="16" height="9"/><rect class="c" x="230" y="832" width="14" height="9"/><rect class="c" x="244" y="832" width="13" height="9"/>
<rect class="c" x="255" y="842" width="18" height="27"/><circle class="d" cx="263" cy="847" r="2"/><text transform="translate(264,856) rotate(-90)" font-size="4.5">OSC7000</text>
<rect class="c" x="273" y="842" width="7" height="12"/><rect class="c" x="273" y="854" width="7" height="13"/>
<rect class="c" x="281" y="841" width="10" height="18"/><text transform="translate(286,850) rotate(-90)" font-size="4">R7214</text>
<rect class="c" x="291" y="842" width="20" height="11"/><text x="301" y="847.5" font-size="4.5">C7094</text>
<rect class="c" x="274" y="798" width="35" height="21"/><text x="291.5" y="808.5" font-size="9" textLength="21.6" lengthAdjust="spacingAndGlyphs">L7017</text>
<rect class="c" x="313" y="796" width="13" height="8"/><rect class="c" x="313" y="804" width="13" height="8"/><rect class="c" x="313" y="812" width="13" height="8"/><rect class="c" x="340" y="794" width="7" height="12"/>
<rect class="c" x="277" y="820" width="14" height="8"/>
<rect class="c" x="291" y="820" width="20" height="12"/><text x="301" y="826" font-size="4.5">C3005</text>
<rect class="c" x="276" y="829" width="14" height="8"/><rect class="c" x="291" y="833" width="13" height="8"/><rect class="c" x="304" y="833" width="13" height="8"/>
<rect class="c" x="329" y="834" width="9" height="13"/>
<rect class="c" x="341" y="836" width="13" height="21"/><text transform="translate(347.5,846.5) rotate(-90)" font-size="4.5">C7086</text>
<rect class="c" x="319" y="856" width="22" height="36"/><text transform="translate(330,874) rotate(-90)" font-size="9" textLength="21" lengthAdjust="spacingAndGlyphs">C7087</text>
<rect class="c" x="341" y="861" width="13" height="21"/><text transform="translate(347.5,871.5) rotate(-90)" font-size="4.5">C7253</text>
<rect class="c" x="253" y="869" width="10" height="18"/><text transform="translate(258,878) rotate(-90)" font-size="4">R3030</text>
<rect class="c" x="253" y="887" width="10" height="19"/><text transform="translate(258,896.5) rotate(-90)" font-size="4">R3031</text>
<rect class="c" x="262" y="873" width="13" height="21"/><text transform="translate(268.5,883.5) rotate(-90)" font-size="4.5">C7246</text>
<rect class="c" x="275" y="873" width="11" height="21"/><text transform="translate(280.5,883.5) rotate(-90)" font-size="4.5">C7247</text>
<rect class="c" x="293" y="868" width="20" height="14"/><text x="303" y="875" font-size="4.5">C3007</text>
<rect class="c" x="293" y="882" width="20" height="12"/><text x="303" y="888" font-size="4.5">C3006</text>
<rect class="c" x="294" y="894" width="20" height="13"/><text x="304" y="900.5" font-size="4.5">C3004</text>
<rect class="c" x="266" y="894" width="13" height="8"/><rect class="c" x="279" y="894" width="14" height="8"/>
<rect class="c" x="191" y="877" width="21" height="12"/><text x="201.5" y="883" font-size="4.5">C7060</text>
<rect class="c" x="212" y="877" width="21" height="12"/><text x="222.5" y="883" font-size="4.5">C7014</text>
<rect class="c" x="233" y="877" width="20" height="12"/><text x="243" y="883" font-size="4.5">C7057</text>
<rect class="c" x="187" y="890" width="7" height="13"/>
<rect class="c" x="195" y="890" width="21" height="12"/><text x="205.5" y="896" font-size="4.5">C3010</text>
<rect class="c" x="216" y="889" width="8" height="13"/><rect class="c" x="224" y="889" width="7" height="13"/>
<rect class="c" x="231" y="891" width="21" height="12"/><text x="241.5" y="897" font-size="4.5">C7015</text>
<rect class="g" x="140" y="910" width="8" height="11"/><rect class="c" x="148" y="916" width="12" height="7"/><rect class="c" x="160" y="916" width="12" height="7"/><rect class="g" x="172" y="916" width="13" height="7"/>

<!-- ===== U8003 SECTION ===== -->
<rect class="c" x="142" y="933" width="22" height="11"/><text x="153" y="938.5" font-size="3.8">U6004</text>
<rect class="g" x="200" y="937" width="20" height="14"/><circle class="g" cx="225" cy="944" r="5"/><circle class="g" cx="235" cy="944" r="5"/>
<rect class="c" x="245" y="938" width="12" height="10"/><rect class="c" x="258" y="940" width="14" height="8"/><rect class="c" x="272" y="940" width="14" height="8"/><rect class="g" x="290" y="937" width="20" height="6"/><rect class="c" x="312" y="938" width="14" height="8"/><rect class="c" x="326" y="938" width="14" height="8"/>
<rect class="c" x="181" y="940" width="12" height="10"/><rect class="c" x="183" y="950" width="11" height="10"/><circle class="g" cx="178" cy="966" r="5"/>
<rect class="g" x="194" y="969" width="34" height="15"/><text x="211" y="976.5" font-size="8.5" textLength="22" lengthAdjust="spacingAndGlyphs">TA8000</text>
<rect class="c" x="228" y="970" width="19" height="10"/><text x="237.5" y="975" font-size="4.3">C8085</text>
<rect class="c" x="196" y="986" width="13" height="7.5"/><rect class="c" x="196" y="993.5" width="13" height="7.5"/><rect class="c" x="196" y="1001" width="13" height="7.5"/><rect class="c" x="196" y="1008.5" width="13" height="7.5"/><rect class="c" x="196" y="1016" width="13" height="7.5"/><rect class="c" x="196" y="1023.5" width="13" height="7.5"/>
<rect class="c" x="209" y="985" width="30" height="17"/><text x="224" y="993.5" font-size="8.5" textLength="18.5" lengthAdjust="spacingAndGlyphs">C8039</text>
<rect class="c" x="209" y="1002" width="30" height="16"/><text x="224" y="1010" font-size="8.5" textLength="18.5" lengthAdjust="spacingAndGlyphs">C8037</text>
<rect class="c" x="209" y="1018" width="30" height="17"/><text x="224" y="1026.5" font-size="8.5" textLength="18.5" lengthAdjust="spacingAndGlyphs">C8038</text>
<rect class="c" x="240" y="993" width="8" height="13"/><rect class="c" x="242" y="1007" width="8" height="12"/><rect class="c" x="240" y="1021" width="8" height="12"/>
<rect class="c" x="248" y="969" width="12" height="7.6"/><rect class="c" x="248" y="976.6" width="12" height="7.6"/><rect class="c" x="248" y="984.2" width="12" height="7.6"/><rect class="c" x="248" y="991.8" width="12" height="7.6"/><rect class="c" x="248" y="999.4" width="12" height="7.6"/><rect class="g" x="248" y="1021" width="12" height="8"/>
<rect class="c" x="195" y="1031" width="57" height="54"/><circle class="d" cx="240" cy="1072" r="2.6"/><text x="223" y="1058" font-size="13" textLength="35" lengthAdjust="spacingAndGlyphs">U8000</text>
<rect class="c" x="192" y="1059" width="8" height="13"/><rect class="c" x="251" y="1077" width="12" height="7"/>
<rect class="c" x="256" y="945" width="90" height="97"/><circle class="d" cx="338" cy="1030" r="2.6"/><circle class="d" cx="262" cy="952" r="2.4"/><text x="303" y="995" font-size="21" textLength="61" lengthAdjust="spacingAndGlyphs">U8003</text>
<rect class="c" x="256" y="1042" width="28" height="23"/><text x="270" y="1053.5" font-size="6">L8005</text>
<rect class="c" x="285" y="1042" width="20" height="8"/><rect class="c" x="285" y="1050" width="20" height="8"/><rect class="c" x="305" y="1042" width="12" height="22"/><rect class="c" x="317" y="1042" width="12" height="22"/><rect class="c" x="329" y="1042" width="12" height="22"/><rect class="c" x="341" y="1042" width="12" height="22"/>
<rect class="c" x="269" y="1065" width="32" height="19"/><text x="285" y="1074.5" font-size="5.5">C8029</text>
<rect class="c" x="302" y="1065" width="11" height="19"/><rect class="c" x="313" y="1065" width="11" height="19"/><rect class="c" x="324" y="1065" width="11" height="19"/><rect class="c" x="335" y="1065" width="11" height="19"/><rect class="c" x="346" y="1065" width="11" height="19"/>
<rect class="c" x="347" y="950" width="10" height="11"/><rect class="c" x="347" y="961" width="10" height="11"/><rect class="c" x="347" y="972" width="10" height="11"/><rect class="g" x="347" y="983" width="10" height="11"/><rect class="c" x="347" y="994" width="10" height="11"/><rect class="c" x="347" y="1005" width="10" height="11"/><rect class="c" x="347" y="1016" width="10" height="11"/><rect class="c" x="347" y="1027" width="10" height="11"/>
<circle cx="156" cy="993" r="6" fill="#000"/><circle cx="156" cy="1015" r="6" fill="#000"/>

<!-- ===== U2009 SECTION ===== -->
<rect class="c" x="152" y="1127" width="32" height="37"/><circle class="d" cx="160" cy="1134" r="2.6"/><text transform="translate(169,1146) rotate(-90)" font-size="7.5">TCX2000</text>
<rect class="g" x="206" y="1107" width="12" height="6"/><rect class="g" x="218" y="1107" width="13" height="6"/><rect class="c" x="206" y="1113" width="12" height="8"/><rect class="c" x="218" y="1113" width="13" height="8"/><rect class="c" x="206" y="1121" width="12" height="8"/><rect class="c" x="218" y="1121" width="13" height="8"/>
<rect class="c" x="191" y="1122" width="13" height="7"/><rect class="c" x="171" y="1120" width="13" height="7"/><rect class="c" x="153" y="1114" width="8" height="12"/><rect class="c" x="161" y="1114" width="8" height="12"/>
<rect class="c" x="184" y="1131" width="10" height="7"/><rect class="c" x="184" y="1138" width="10" height="6"/><rect class="g" x="185" y="1145" width="8" height="13"/>
<rect class="c" x="197" y="1130" width="8" height="13"/><rect class="c" x="205" y="1130" width="7" height="13"/><rect class="c" x="212" y="1130" width="7" height="13"/><rect class="c" x="221" y="1130" width="7" height="12"/><rect class="g" x="235" y="1130" width="7" height="12"/><rect class="c" x="235" y="1115" width="7" height="15"/>
<rect class="g" x="245" y="1120" width="13" height="8"/><rect class="g" x="258" y="1120" width="13" height="8"/><rect class="c" x="245" y="1128" width="13" height="7"/><rect class="c" x="258" y="1128" width="13" height="7"/><rect class="c" x="245" y="1135" width="13" height="7"/><rect class="c" x="258" y="1135" width="13" height="7"/>
<rect class="c" x="272" y="1119" width="19" height="17"/><circle class="d" cx="287" cy="1123" r="1.8"/><rect class="c" x="291" y="1122" width="5" height="13"/>
<rect class="c" x="273" y="1112" width="13" height="7"/><rect class="c" x="284" y="1105" width="12" height="6"/>
<rect class="c" x="296" y="1106" width="25" height="29"/><circle class="d" cx="302" cy="1114" r="2"/><text transform="translate(308.5,1120) rotate(-90)" font-size="5">U1000</text>
<rect class="c" x="318" y="1106" width="6" height="12"/><rect class="c" x="321" y="1106" width="7" height="14"/><rect class="c" x="328" y="1106" width="7" height="10"/><rect class="c" x="335" y="1106" width="7" height="10"/><rect class="c" x="342" y="1106" width="7" height="10"/>
<rect class="c" x="327" y="1115" width="22" height="24"/><circle class="d" cx="343" cy="1121" r="2"/><text transform="translate(338,1127) rotate(-90)" font-size="4.5">U1007</text>
<rect class="c" x="191" y="1143" width="80" height="73"/><circle class="d" cx="261" cy="1156" r="2.6"/><text transform="translate(231,1180) rotate(-90)" font-size="19" textLength="43" lengthAdjust="spacingAndGlyphs">U2009</text>
<rect class="c" x="274" y="1140" width="21" height="12"/><text x="284.5" y="1146" font-size="4.5">C2037</text>
<rect class="c" x="295" y="1141" width="18" height="10"/><text x="304" y="1146" font-size="4">L2017</text>
<rect class="c" x="276" y="1155" width="13" height="8"/><rect class="c" x="276" y="1163" width="13" height="8"/><rect class="c" x="276" y="1173" width="13" height="7"/>
<rect class="c" x="289" y="1153" width="19" height="8"/><text x="298.5" y="1157" font-size="4">L2015</text>
<rect class="c" x="289" y="1162" width="20" height="12"/><text x="299" y="1168" font-size="4.5">C2017</text><circle class="g" cx="315" cy="1166" r="5"/>
<rect class="c" x="276" y="1182" width="13" height="7"/><rect class="g" x="290" y="1177" width="8" height="12"/><rect class="c" x="298" y="1177" width="7" height="12"/><rect class="g" x="305" y="1177" width="7" height="12"/>
<rect class="c" x="276" y="1190" width="13" height="7"/><rect class="c" x="290" y="1190" width="15" height="7"/><rect class="g" x="305" y="1190" width="8" height="12"/>
<rect class="c" x="311" y="1179" width="25" height="18"/><circle class="d" cx="332" cy="1183" r="2"/><text x="323.5" y="1188" font-size="5.5">U1006</text>
<rect class="c" x="321" y="1145" width="8" height="13"/><rect class="c" x="321" y="1160" width="8" height="12"/><rect class="c" x="329" y="1141" width="8" height="13"/><rect class="c" x="337" y="1141" width="8" height="13"/><rect class="c" x="329" y="1156" width="8" height="13"/><rect class="c" x="337" y="1156" width="8" height="13"/><rect class="c" x="345" y="1152" width="7" height="13"/><rect class="c" x="337" y="1169" width="9" height="10"/><rect class="c" x="346" y="1167" width="7" height="12"/>
<rect class="c" x="337" y="1181" width="13" height="7"/><rect class="c" x="337" y="1189" width="13" height="7"/><rect class="c" x="337" y="1197" width="13" height="7"/>
<rect class="c" x="276" y="1204" width="13" height="7"/><rect class="c" x="289" y="1204" width="12" height="7"/><rect class="g" x="301" y="1200" width="8" height="13"/>
<rect class="c" x="310" y="1199" width="17" height="15"/><circle class="d" cx="315" cy="1203" r="1.8"/><text x="318.5" y="1208" font-size="3.8">U1300</text>
<rect class="c" x="327" y="1200" width="8" height="12"/><rect class="c" x="335" y="1200" width="14" height="7"/>
<rect class="g" x="282" y="1212" width="12" height="6"/><rect class="c" x="282" y="1219" width="12" height="7"/><rect class="c" x="296" y="1214" width="13" height="8"/><rect class="c" x="296" y="1222" width="13" height="6"/>
<rect class="g" x="310" y="1219" width="13" height="7"/><rect class="c" x="323" y="1219" width="13" height="7"/><rect class="c" x="339" y="1220" width="12" height="8"/><rect class="c" x="329" y="1212" width="12" height="7"/><rect class="c" x="341" y="1212" width="12" height="7"/>
<rect class="c" x="278" y="1227" width="16" height="19"/><text transform="translate(286,1236.5) rotate(-90)" font-size="4.5">F1010</text>
<rect class="c" x="295" y="1230" width="17" height="16"/><circle class="d" cx="308" cy="1233" r="1.8"/><text transform="translate(302,1238) rotate(-90)" font-size="4">U1004</text>
<rect class="c" x="313" y="1227" width="17" height="19"/><text transform="translate(321.5,1236.5) rotate(-90)" font-size="4.5">F1009</text>
<rect class="c" x="330" y="1230" width="20" height="16"/><circle class="d" cx="345" cy="1234" r="2"/><text transform="translate(339,1238) rotate(-90)" font-size="4.5">U1005</text>
<rect class="c" x="285" y="1247" width="9" height="12"/><rect class="c" x="294" y="1247" width="12" height="7"/><rect class="g" x="294" y="1254" width="12" height="6"/><rect class="c" x="303" y="1247" width="7" height="12"/><rect class="c" x="320" y="1247" width="8" height="12"/><rect class="c" x="328" y="1247" width="8" height="12"/><rect class="c" x="336" y="1247" width="7" height="12"/><rect class="c" x="343" y="1247" width="7" height="12"/>
<rect class="c" x="258" y="1233" width="19" height="25"/><circle class="d" cx="262" cy="1237" r="2"/><text transform="translate(268,1246) rotate(-90)" font-size="5.5">F1001</text>
<rect class="c" x="182" y="1217" width="7" height="12.5"/><rect class="c" x="189" y="1217" width="7" height="12.5"/><rect class="c" x="205" y="1217" width="7" height="12.5"/><rect class="c" x="212" y="1217" width="7" height="12.5"/><rect class="c" x="219" y="1217" width="7" height="12.5"/><rect class="c" x="226" y="1217" width="8" height="12.5"/>
<rect class="c" x="182" y="1229.5" width="7" height="12.5"/><rect class="c" x="189" y="1229.5" width="7" height="12.5"/><rect class="c" x="205" y="1229.5" width="7" height="12.5"/><rect class="c" x="212" y="1229.5" width="7" height="12.5"/><rect class="c" x="219" y="1229.5" width="7" height="12.5"/><rect class="c" x="226" y="1229.5" width="8" height="12.5"/>
<rect class="g" x="182" y="1242" width="7" height="12.5"/><rect class="g" x="189" y="1242" width="7" height="12.5"/><rect class="g" x="205" y="1242" width="7" height="12.5"/><rect class="c" x="212" y="1242" width="7" height="12.5"/><rect class="g" x="219" y="1242" width="7" height="12.5"/><rect class="c" x="226" y="1242" width="8" height="12.5"/>
<rect class="c" x="242" y="1221" width="8" height="12"/><rect class="c" x="250" y="1221" width="7" height="12"/><rect class="g" x="257" y="1221" width="7" height="12"/><rect class="c" x="264" y="1221" width="7" height="12"/><rect class="c" x="242" y="1234" width="8" height="12"/><rect class="c" x="250" y="1234" width="7" height="12"/><rect class="c" x="242" y="1246" width="8" height="12"/><rect class="g" x="250" y="1246" width="7" height="12"/>
<rect class="g" x="176" y="1256" width="14" height="7"/><rect class="c" x="190" y="1256" width="13" height="7"/><rect class="g" x="203" y="1256" width="14" height="7"/><rect class="g" x="217" y="1256" width="13" height="7"/>
<rect class="c" x="266" y="1260" width="13" height="6"/><rect class="g" x="279" y="1260" width="13" height="6"/>
<rect class="c" x="154" y="1168" width="11" height="20"/><text transform="translate(159.5,1178) rotate(-90)" font-size="4.5">C2031</text><rect class="c" x="165" y="1168" width="8" height="11"/>
<rect class="c" x="170" y="1181" width="18" height="8"/><text x="179" y="1185" font-size="4">C2019</text>
<rect class="c" x="173" y="1190" width="8" height="12"/><rect class="c" x="181" y="1190" width="7" height="12"/>
<rect class="c" x="156" y="1189" width="9" height="17"/><text transform="translate(160.5,1197.5) rotate(-90)" font-size="3.8">L2016</text>
<rect class="c" x="156" y="1208" width="9" height="18"/><text transform="translate(160.5,1217) rotate(-90)" font-size="3.8">L2013</text>
<rect class="c" x="167" y="1205" width="20" height="11"/><text x="177" y="1210.5" font-size="4.5">C2024</text>
<rect class="c" x="176" y="1263" width="91" height="69"/><circle class="d" cx="181" cy="1270" r="2.6"/><text x="221" y="1298" font-size="17" textLength="63" lengthAdjust="spacingAndGlyphs">PAM1300</text>
<rect class="c" x="161" y="1261" width="7" height="12"/><rect class="c" x="162" y="1275" width="13" height="7"/><rect class="c" x="162" y="1282" width="13" height="7"/><rect class="c" x="162" y="1289" width="13" height="7"/><rect class="c" x="152" y="1277" width="8" height="13"/><rect class="c" x="152" y="1290" width="8" height="13"/><rect class="g" x="161" y="1301" width="14" height="6"/>
<rect class="c" x="155" y="1310" width="12" height="19"/><text transform="translate(161,1319.5) rotate(-90)" font-size="4.5">C1302</text><rect class="c" x="167" y="1308" width="8" height="12"/><rect class="c" x="167" y="1320" width="8" height="11"/>
<rect class="c" x="267" y="1286" width="8" height="13"/><rect class="c" x="275" y="1286" width="8" height="13"/><rect class="c" x="267" y="1299" width="8" height="13"/><rect class="c" x="275" y="1299" width="8" height="13"/><rect class="c" x="283" y="1292" width="7" height="12"/><rect class="g" x="283" y="1304" width="7" height="12"/>
<polygon class="c" points="324,1290 351,1290 351,1302 357,1302 357,1318 351,1318 351,1329 324,1329 324,1318 318,1318 318,1302 324,1302"/><circle class="d" cx="324" cy="1309" r="2.6"/><text transform="translate(338,1310) rotate(-90)" font-size="7">RFS1002</text>
<rect class="g" x="321" y="1335" width="14" height="7"/><rect class="g" x="321" y="1343" width="14" height="7"/><rect class="g" x="321" y="1351" width="14" height="7"/>
<rect class="c" x="161" y="1350" width="13" height="21"/><rect class="k" x="164" y="1362" width="6" height="5"/><rect class="c" x="174" y="1350" width="14" height="21"/><rect class="k" x="178" y="1362" width="6" height="5"/>
<rect class="c" x="165" y="1372" width="12" height="6"/><rect class="c" x="177" y="1372" width="13" height="6"/>
<rect class="c" x="190" y="1357" width="34" height="19"/><line class="f" x1="193" y1="1360" x2="193" y2="1375"/><circle class="d" cx="218" cy="1366" r="2.4"/><text x="209" y="1366.5" font-size="4.5">ANT2008</text>
<rect class="c" x="198" y="1378" width="18" height="7"/><circle class="d" cx="213" cy="1381" r="2"/>
<rect class="c" x="238" y="1367" width="37" height="38"/><circle class="d" cx="243" cy="1386" r="2.6"/><text x="257" y="1386" font-size="6">RFS1003</text>
<rect class="c" x="285" y="1353" width="8" height="12"/><rect class="c" x="293" y="1353" width="7" height="12"/><rect class="c" x="287" y="1365" width="13" height="6"/><rect class="c" x="287" y="1373" width="13" height="7"/><rect class="c" x="287" y="1381" width="13" height="7"/><rect class="c" x="287" y="1389" width="13" height="7"/><rect class="c" x="287" y="1397" width="13" height="7"/><rect class="c" x="287" y="1405" width="13" height="6"/>
<rect class="c" x="185" y="1389" width="20" height="11"/><text x="195" y="1394.5" font-size="4.5">L8004</text><rect class="c" x="205" y="1388" width="8" height="12"/>
<rect class="c" x="185" y="1400" width="20" height="12"/><text x="195" y="1406" font-size="4.5">L8006</text><rect class="c" x="205" y="1400" width="8" height="12"/>
<rect class="g" x="214" y="1392" width="14" height="7"/><rect class="g" x="214" y="1402" width="14" height="7"/>
<rect class="g" x="186" y="1412" width="42" height="20"/><text x="207" y="1422" font-size="5">ZD8027</text>
<rect class="c" x="142" y="1452" width="34" height="19"/><line class="f" x1="145" y1="1455" x2="145" y2="1470"/><circle class="d" cx="169" cy="1461" r="2.4"/><text x="161" y="1461.5" font-size="4">SPKN8000</text>
<rect class="c" x="192" y="1436" width="19" height="34"/><line class="f" x1="195" y1="1439" x2="208" y2="1439"/><circle class="d" cx="195" cy="1465" r="2.4"/><text transform="translate(201.5,1453) rotate(-90)" font-size="4">SPKP8000</text>
<rect class="c" x="216" y="1434" width="13" height="7.5"/><rect class="c" x="216" y="1441.5" width="13" height="7.5"/><rect class="c" x="216" y="1449" width="13" height="7.5"/><rect class="c" x="216" y="1456.5" width="13" height="7.5"/><rect class="c" x="216" y="1464" width="13" height="7.5"/><rect class="c" x="216" y="1471.5" width="13" height="7.5"/><rect class="c" x="216" y="1479" width="13" height="7.5"/><rect class="c" x="216" y="1486.5" width="13" height="7.5"/>
<rect class="k" x="224" y="1436" width="4" height="3.5"/><rect class="k" x="224" y="1466" width="4" height="3.5"/><rect class="k" x="224" y="1473" width="4" height="3.5"/>
<rect class="c" x="211" y="1470" width="8" height="13"/>
<rect class="c" x="230" y="1495" width="8" height="12"/><rect class="c" x="239" y="1488" width="13" height="7"/><rect class="c" x="239" y="1495" width="13" height="8"/><rect class="c" x="239" y="1503" width="13" height="8"/><rect class="c" x="239" y="1511" width="13" height="7"/><rect class="g" x="239" y="1518" width="13" height="8"/><rect class="c" x="232" y="1506" width="7" height="12"/>
<rect class="c" x="252" y="1424" width="32" height="62"/><line class="f" x1="255" y1="1426" x2="255" y2="1484"/><line class="f" x1="281" y1="1426" x2="281" y2="1484"/><circle class="d" cx="258" cy="1446" r="2.4"/><text transform="translate(269,1455) rotate(-90)" font-size="9" textLength="33" lengthAdjust="spacingAndGlyphs">HDC4001</text>
<rect class="c" x="147" y="1494" width="38" height="38"/><circle class="d" cx="152" cy="1513" r="2.6"/><text x="167" y="1513" font-size="6">RFS1001</text>
<polygon class="c" points="276,1497 303,1497 303,1509 309,1509 309,1524 303,1524 303,1537 276,1537 276,1524 270,1524 270,1509 276,1509"/><circle class="d" cx="275" cy="1519" r="2.6"/><text transform="translate(289,1517) rotate(-90)" font-size="7">RFS1000</text>

<!-- ===== RIGHT PIECE ===== -->
<g>
<circle class="k" cx="733" cy="44" r="4.7"/><circle class="k" cx="741" cy="44" r="4.7"/><circle class="k" cx="749" cy="44" r="4.7"/><circle class="k" cx="757" cy="44" r="4.7"/><circle class="k" cx="765" cy="44" r="4.7"/><circle class="k" cx="773" cy="44" r="4.7"/><circle class="k" cx="781" cy="44" r="4.7"/><circle class="k" cx="789" cy="44" r="4.7"/><circle class="k" cx="797" cy="44" r="4.7"/>
</g>
<circle class="d" cx="705" cy="55" r="2.8"/>
<text x="742" y="113" font-size="27" textLength="63" lengthAdjust="spacingAndGlyphs">U4017</text>
<circle class="d" cx="597" cy="168" r="2.8"/>
<text transform="translate(628,137) rotate(-90)" font-size="21" textLength="56" lengthAdjust="spacingAndGlyphs">U9003</text>
<circle class="k" cx="601" cy="39" r="4.8"/>
<rect class="c" x="603" y="86" width="7.8" height="12"/><rect class="c" x="610.8" y="86" width="7.8" height="12"/><rect class="c" x="618.6" y="86" width="7.8" height="12"/><rect class="c" x="626.4" y="86" width="7.8" height="12"/><rect class="c" x="634.2" y="86" width="7.8" height="12"/><rect class="c" x="642" y="86" width="7.8" height="12"/><rect class="c" x="649.8" y="86" width="7.8" height="12"/><rect class="c" x="657.6" y="86" width="7.8" height="12"/><rect class="c" x="665.4" y="86" width="7.8" height="12"/>
<rect class="c" x="585" y="73" width="19" height="10"/><text x="594.5" y="78" font-size="4">C4148</text>
<rect class="c" x="584" y="84" width="20" height="10"/><text x="594" y="89" font-size="4">C9023</text>
<rect class="c" x="594" y="53" width="32" height="19"/><line class="f" x1="623" y1="56" x2="623" y2="71"/><circle class="d" cx="598" cy="62" r="2.4"/><text x="607" y="62.5" font-size="5">ANT4001</text>
<rect class="c" x="584" y="54" width="8" height="18"/><circle class="d" cx="588" cy="67" r="2"/>
<rect class="c" x="628" y="49" width="19" height="10"/><circle class="d" cx="642" cy="54" r="2"/><rect class="c" x="647" y="46" width="8" height="13"/><rect class="g" x="655" y="46" width="7" height="13"/>
<rect class="c" x="643" y="65" width="12" height="8"/><rect class="c" x="655" y="65" width="12" height="8"/><rect class="g" x="667" y="62" width="8" height="11"/>
<rect class="c" x="643" y="73" width="8" height="12"/><rect class="c" x="651" y="73" width="8" height="12"/><rect class="c" x="659" y="73" width="7" height="12"/><rect class="c" x="666" y="73" width="7" height="12"/>
<rect class="c" x="677" y="73" width="19" height="23"/><circle class="d" cx="686" cy="92" r="2"/><text transform="translate(686.5,84.5) rotate(-90)" font-size="5">F4002</text>
<rect class="c" x="677" y="60" width="8" height="13"/><rect class="c" x="685" y="64" width="12" height="8"/><rect class="c" x="673" y="97" width="12" height="7"/><rect class="c" x="685" y="97" width="12" height="7"/><rect class="c" x="688" y="46" width="7" height="13"/>
<rect class="c" x="670" y="111" width="26" height="7"/>
<rect class="c" x="668" y="118" width="30" height="37"/><text transform="translate(683,136.5) rotate(-90)" font-size="7.5">OSC9000</text>
<rect class="c" x="670" y="155" width="14" height="8"/><rect class="g" x="684" y="155" width="14" height="8"/><rect class="c" x="672" y="164" width="12" height="8"/><rect class="c" x="672" y="172" width="12" height="7"/><rect class="c" x="685" y="164" width="12" height="8"/><rect class="c" x="685" y="172" width="12" height="7"/>
<rect class="c" x="576" y="136" width="13" height="7"/><rect class="c" x="576" y="143" width="13" height="7"/><rect class="c" x="576" y="150" width="13" height="7"/><rect class="c" x="576" y="157" width="13" height="7"/><rect class="c" x="576" y="164" width="13" height="7"/>
<circle class="k" cx="579" cy="126" r="3.5"/><circle class="k" cx="579" cy="133" r="3.5"/>
<g>
<circle class="k" cx="696" cy="183" r="4.5"/><circle class="k" cx="703" cy="183" r="4.5"/><circle class="k" cx="711" cy="183" r="4.5"/><circle class="k" cx="718" cy="183" r="4.5"/><circle class="k" cx="696" cy="190" r="4.5"/><circle class="k" cx="704" cy="190" r="4.5"/><circle class="k" cx="712" cy="190" r="4.5"/><circle class="k" cx="719" cy="190" r="4.5"/><circle class="k" cx="725" cy="190" r="4.5"/><circle class="k" cx="696" cy="197" r="4.5"/><circle class="k" cx="704" cy="197" r="4.5"/><circle class="k" cx="712" cy="197" r="4.5"/><circle class="k" cx="719" cy="197" r="4.5"/>
</g>
<rect class="c" x="769" y="182" width="19" height="12"/><text x="778.5" y="188" font-size="4">C4016</text>
<rect class="c" x="751" y="182" width="8" height="13"/><rect class="c" x="759" y="182" width="8" height="13"/><rect class="c" x="747" y="197" width="13" height="8"/><rect class="c" x="747" y="205" width="13" height="7"/>
<rect class="c" x="793" y="60" width="8" height="13"/><rect class="c" x="801" y="65" width="12" height="7"/><rect class="g" x="814" y="58" width="8" height="13"/><rect class="c" x="825" y="65" width="13" height="7"/>
<rect class="c" x="840" y="65" width="18" height="10"/><circle class="d" cx="843" cy="70" r="2"/><text x="850" y="70" font-size="3">VR4000</text>
<rect class="c" x="848" y="45" width="35" height="19"/><line class="f" x1="851" y1="46" x2="851" y2="62"/><text x="867" y="54.5" font-size="5.5">ANT4000</text>
<circle class="k" cx="921" cy="59" r="5"/>
<rect class="c" x="790" y="77" width="7" height="13"/><rect class="c" x="797" y="77" width="8" height="13"/>
<rect class="c" x="788" y="89" width="17" height="19"/><text transform="translate(796.5,98.5) rotate(-90)" font-size="5">F4001</text>
<rect class="c" x="788" y="108" width="8" height="14"/><rect class="c" x="796" y="108" width="9" height="14"/>
<rect class="c" x="809" y="88" width="41" height="50"/><circle class="d" cx="819" cy="129" r="2.3"/><text transform="translate(829,113) rotate(-90)" font-size="13" textLength="30" lengthAdjust="spacingAndGlyphs">U4004</text>
<rect class="c" x="857" y="88" width="8" height="13"/><rect class="c" x="865" y="88" width="7" height="13"/>
<rect class="c" x="790" y="125" width="8" height="13"/><rect class="g" x="798" y="125" width="8" height="13"/>
<rect class="c" x="791" y="138" width="11" height="21"/><text transform="translate(796.5,148.5) rotate(-90)" font-size="4">C4012</text><rect class="g" x="802" y="138" width="10" height="21"/>
<circle class="k" cx="814" cy="138" r="4"/><circle class="k" cx="822" cy="138" r="4"/><circle class="k" cx="814" cy="145" r="4"/><circle class="k" cx="822" cy="145" r="4"/>
<rect class="c" x="850" y="125" width="30" height="16"/><text x="865" y="133" font-size="9" textLength="18" lengthAdjust="spacingAndGlyphs">C7158</text>
<rect class="c" x="869" y="142" width="15" height="8"/><rect class="k" x="878" y="143" width="5" height="5"/><rect class="c" x="869" y="150" width="13" height="8"/>
<circle class="d" cx="862" cy="161" r="2.2"/><text x="853" y="156" font-size="10" textLength="23.5" lengthAdjust="spacingAndGlyphs">U7010</text>
<rect class="c" x="789" y="159" width="22" height="35"/><text transform="translate(800,176.5) rotate(-90)" font-size="10" textLength="22" lengthAdjust="spacingAndGlyphs">L4014</text>
<rect class="c" x="813" y="152" width="22" height="41"/><text transform="translate(824,172.5) rotate(-90)" font-size="10" textLength="25" lengthAdjust="spacingAndGlyphs">TA7001</text>
<circle class="k" cx="816" cy="195" r="5"/>
<rect class="c" x="835" y="173" width="8" height="20"/>
<rect class="c" x="843" y="172" width="41" height="23"/><circle class="d" cx="850" cy="183" r="2.3"/><text x="864" y="183.5" font-size="10" textLength="26" lengthAdjust="spacingAndGlyphs">TA7000</text>
<rect class="c" x="910" y="132" width="34" height="20"/><line class="f" x1="941" y1="135" x2="941" y2="151"/><circle class="d" cx="918" cy="142" r="2.4"/><text x="926" y="142.5" font-size="5.5">ANT4002</text>
<rect class="c" x="901" y="164" width="19" height="9"/><circle class="d" cx="905" cy="168" r="2"/><text x="912" y="168.5" font-size="3">VR4002</text>
<rect class="c" x="901" y="173" width="19" height="10"/><text x="910.5" y="178" font-size="4">C4144</text>
<polygon class="c" points="780,213 877,213 877,216 896,216 896,247 877,247 877,250 780,250 780,247 762,247 762,216 780,216"/><circle class="d" cx="782" cy="243" r="2.2"/><text x="828" y="232" font-size="21" textLength="76" lengthAdjust="spacingAndGlyphs">HDC9004</text>
<rect class="c" x="660" y="219" width="49" height="57"/><text transform="translate(685,247.5) rotate(-90)" font-size="12" textLength="37" lengthAdjust="spacingAndGlyphs">LED7000</text>
<rect class="c" x="662" y="276" width="45" height="81" rx="2"/><circle class="d" cx="668" cy="283" r="2.5"/><text transform="translate(685,316.5) rotate(-90)" font-size="19" textLength="48.5" lengthAdjust="spacingAndGlyphs">U4003</text>
<rect class="g" x="651" y="359" width="53" height="53"/><text x="677.5" y="386" font-size="12" textLength="35" lengthAdjust="spacingAndGlyphs">CON1000</text>
<rect class="g" x="749" y="271" width="27" height="13"/><text x="762.5" y="277.5" font-size="5">D10001</text>
<rect class="c" x="776" y="271" width="7" height="13"/><rect class="c" x="783" y="271" width="8" height="13"/><rect class="g" x="792" y="271" width="18" height="10"/><rect class="g" x="810" y="271" width="18" height="10"/>
<rect class="c" x="752" y="285" width="8" height="13"/><rect class="c" x="760" y="285" width="8" height="13"/><rect class="c" x="768" y="285" width="8" height="13"/><rect class="c" x="776" y="285" width="7" height="13"/><rect class="c" x="783" y="285" width="7" height="13"/>
<rect class="g" x="752" y="298" width="8" height="9"/><rect class="g" x="760" y="298" width="8" height="9"/><rect class="c" x="768" y="298" width="19" height="9"/>
<rect class="g" x="791" y="281" width="9" height="18"/><rect class="g" x="800" y="281" width="9" height="18"/><rect class="g" x="809" y="281" width="9" height="18"/><rect class="c" x="818" y="281" width="8" height="18"/>
<rect class="c" x="752" y="310" width="34" height="19"/><line class="f" x1="755" y1="312" x2="755" y2="328"/><circle class="d" cx="779" cy="319" r="2.4"/><text x="771" y="319.5" font-size="5.5">ANT7007</text>
<rect class="c" x="794" y="310" width="34" height="19"/><line class="f" x1="825" y1="312" x2="825" y2="328"/><circle class="d" cx="800" cy="319" r="2.4"/><text x="809" y="319.5" font-size="5.5">ANT7006</text>
<rect class="c" x="752" y="337" width="34" height="19"/><line class="f" x1="755" y1="339" x2="755" y2="355"/><circle class="d" cx="779" cy="346" r="2.4"/><text x="771" y="346.5" font-size="5.5">ANT7002</text>
<rect class="c" x="794" y="337" width="34" height="19"/><line class="f" x1="825" y1="339" x2="825" y2="355"/><circle class="d" cx="800" cy="346" r="2.4"/><text x="809" y="346.5" font-size="5.5">ANT7003</text>
<rect class="c" x="752" y="365" width="34" height="19"/><line class="f" x1="755" y1="367" x2="755" y2="383"/><circle class="d" cx="779" cy="374" r="2.4"/><text x="771" y="374.5" font-size="5.5">ANT4005</text>
<rect class="c" x="794" y="365" width="34" height="19"/><line class="f" x1="825" y1="367" x2="825" y2="383"/><circle class="d" cx="800" cy="374" r="2.4"/><text x="809" y="374.5" font-size="5.5">ANT4004</text>
<rect class="c" x="752" y="392" width="34" height="19"/><line class="f" x1="755" y1="394" x2="755" y2="410"/><text x="771" y="401.5" font-size="5.5">ANT7001</text>
<rect class="c" x="794" y="392" width="34" height="19"/><line class="f" x1="825" y1="394" x2="825" y2="410"/><text x="809" y="401.5" font-size="5.5">ANT7000</text>
<rect class="g" x="834" y="268" width="8" height="14"/><rect class="c" x="842" y="276" width="12" height="8"/><rect class="c" x="842" y="284" width="12" height="7"/><rect class="g" x="834" y="282" width="8" height="14"/><rect class="c" x="842" y="291" width="12" height="7"/><rect class="g" x="834" y="296" width="8" height="13"/><rect class="c" x="842" y="298" width="12" height="8"/><rect class="c" x="842" y="306" width="12" height="7"/><rect class="g" x="834" y="310" width="8" height="13"/><rect class="c" x="842" y="313" width="12" height="8"/><rect class="c" x="834" y="323" width="8" height="14"/><rect class="c" x="842" y="321" width="12" height="7"/><rect class="c" x="855" y="331" width="13" height="7"/>
<rect class="c" x="862" y="281" width="19" height="34"/><line class="f" x1="864" y1="283" x2="880" y2="283"/><circle class="d" cx="866" cy="310" r="2.2"/><text transform="translate(871.5,298) rotate(-90)" font-size="4.5">VOLG7000</text>
<rect class="c" x="890" y="281" width="19" height="34"/><line class="f" x1="892" y1="283" x2="908" y2="283"/><circle class="d" cx="894" cy="310" r="2.2"/><text transform="translate(899.5,298) rotate(-90)" font-size="4.5">VOLD7000</text>
<rect class="c" x="917" y="281" width="19" height="34"/><line class="f" x1="919" y1="283" x2="935" y2="283"/><circle class="d" cx="921" cy="310" r="2.2"/><text transform="translate(926.5,298) rotate(-90)" font-size="4.5">VOLU7000</text>
<rect class="c" x="837" y="341" width="18" height="32"/><line class="f" x1="839" y1="343" x2="853" y2="343"/><circle class="d" cx="842" cy="366" r="2.2"/><text transform="translate(846,357) rotate(-90)" font-size="4.5">ANT4003</text>
<rect class="c" x="857" y="337" width="18" height="9"/><circle class="d" cx="861" cy="341" r="2"/><rect class="c" x="857" y="346" width="18" height="9"/><rect class="c" x="857" y="355" width="18" height="9"/><rect class="c" x="857" y="364" width="18" height="9"/>
<rect class="g" x="839" y="376" width="28" height="10"/><text x="853" y="381" font-size="5">D10000</text><rect class="c" x="867" y="373" width="9" height="16"/>
<rect class="g" x="858" y="391" width="17" height="10"/><rect class="c" x="858" y="401" width="17" height="10"/>

<!-- SUS area components -->
<rect class="c" x="401" y="148" width="33" height="19"/><circle class="d" cx="418" cy="156" r="2.4"/><text x="417.5" y="157.5" font-size="6.5">CON9002</text>
<rect class="c" x="477" y="175" width="32" height="19"/><circle class="d" cx="493" cy="184" r="2.4"/><text x="493" y="184.5" font-size="6.5">CON9001</text>
<rect class="c" x="510" y="175" width="10" height="19"/><circle class="d" cx="515" cy="179" r="2"/>
<polygon class="g" points="540,137 577,137 577,178 571,178 571,181 546,181 546,178 540,178"/><text transform="translate(558,158) rotate(-90)" font-size="9" textLength="28" lengthAdjust="spacingAndGlyphs">HDC9003</text>
<rect class="c" x="577" y="137" width="12" height="7"/><rect class="c" x="577" y="144" width="12" height="7"/><rect class="c" x="577" y="151" width="12" height="7"/><rect class="c" x="577" y="158" width="12" height="7"/><rect class="c" x="577" y="165" width="12" height="7"/>
<rect class="c" x="582" y="243" width="20" height="33"/><circle class="d" cx="592" cy="259" r="2.2"/><text transform="translate(592,259.5) rotate(-90)" font-size="6">CON9000</text>
<rect class="c" x="602" y="249" width="13" height="7"/><rect class="c" x="602" y="256" width="13" height="7"/>
<rect class="c" x="602" y="264" width="13" height="21"/><text transform="translate(608.5,274.5) rotate(-90)" font-size="4.5">C4140</text>
<rect class="c" x="583" y="277" width="19" height="10"/><circle class="d" cx="588" cy="281" r="2"/>
<rect class="c" x="582" y="287" width="20" height="11"/><text x="592" y="292.5" font-size="4.5">C4106</text>
<rect class="g" x="583" y="298" width="19" height="9"/>
<rect class="c" x="602" y="285" width="13" height="7"/><rect class="c" x="602" y="292" width="13" height="7"/><rect class="c" x="601" y="299" width="12" height="7"/>
</svg>
</body></html>
